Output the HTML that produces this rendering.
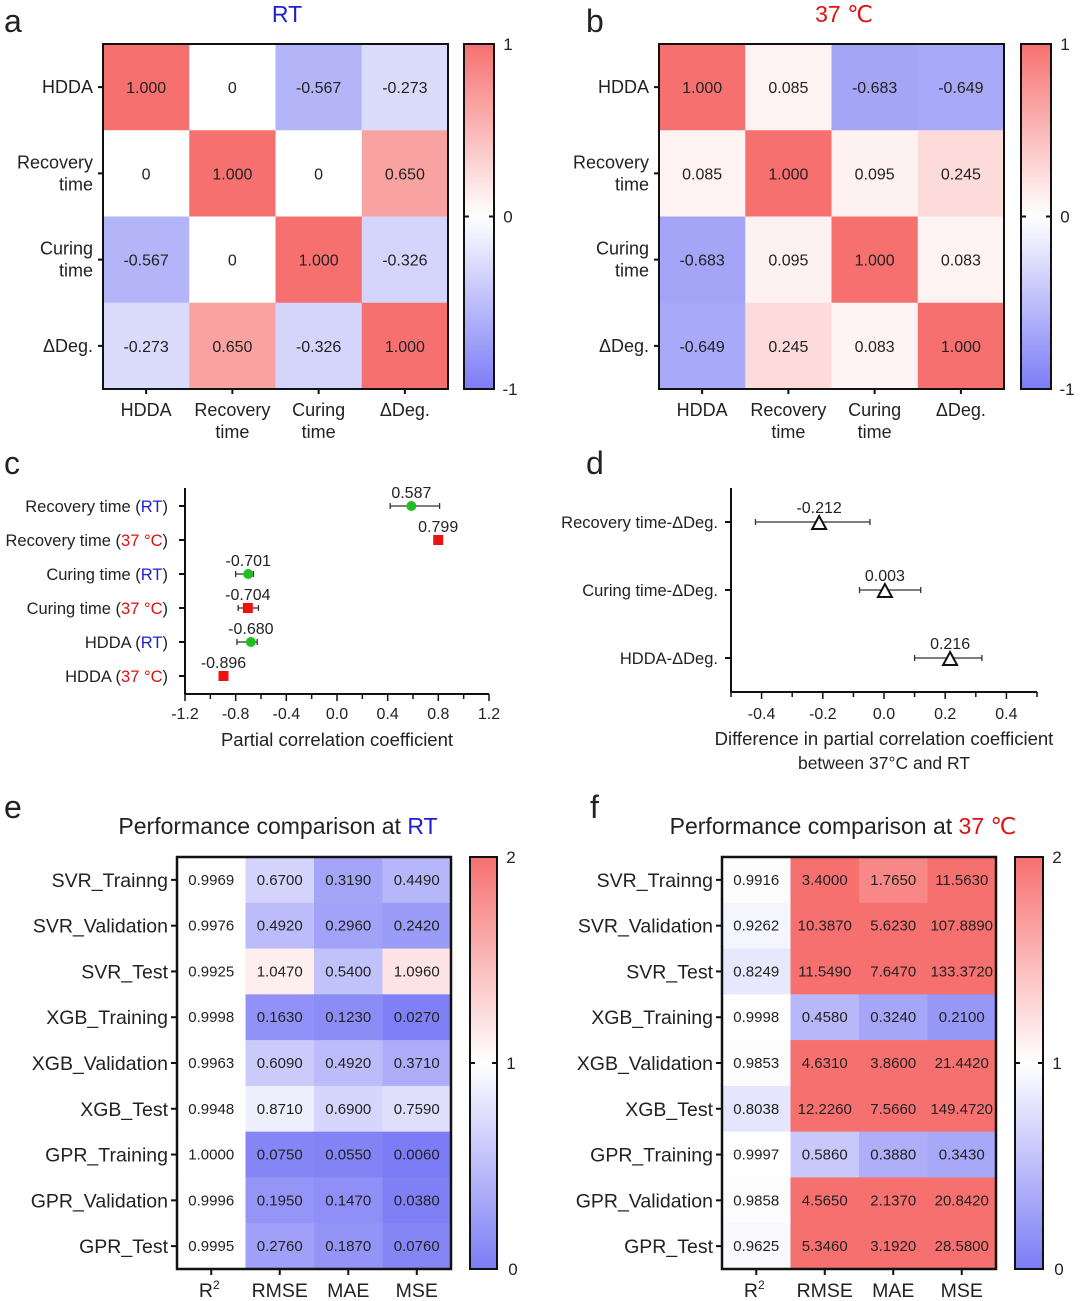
<!DOCTYPE html>
<html><head><meta charset="utf-8"><style>
body{margin:0;background:#fff}
svg{display:block;font-family:"Liberation Sans","DejaVu Sans",sans-serif}
</style></head><body>
<svg id="fig" width="1080" height="1301" viewBox="0 0 1080 1301" xmlns="http://www.w3.org/2000/svg"></svg>
<script>
// ---------- data ----------
const corrLabels = ["HDDA","Recovery time","Curing time","\u0394Deg."];
const corrRT = [[1,0,-0.567,-0.273],[0,1,0,0.650],[-0.567,0,1,-0.326],[-0.273,0.650,-0.326,1]];
const corrRTText = [["1.000","0","-0.567","-0.273"],["0","1.000","0","0.650"],["-0.567","0","1.000","-0.326"],["-0.273","0.650","-0.326","1.000"]];
const corr37 = [[1,0.085,-0.683,-0.649],[0.085,1,0.095,0.245],[-0.683,0.095,1,0.083],[-0.649,0.245,0.083,1]];
const corr37Text = [["1.000","0.085","-0.683","-0.649"],["0.085","1.000","0.095","0.245"],["-0.683","0.095","1.000","0.083"],["-0.649","0.245","0.083","1.000"]];

const pcLabels = ["Recovery time","Recovery time","Curing time","Curing time","HDDA","HDDA"];
const pcCond = ["RT","37 \u00b0C","RT","37 \u00b0C","RT","37 \u00b0C"];
const pcValues = [0.587,0.799,-0.701,-0.704,-0.680,-0.896];
const pcLow = [0.42,0.77,-0.80,-0.78,-0.79,-0.92];
const pcHigh = [0.81,0.83,-0.66,-0.62,-0.63,-0.87];
const pcTicks = [-1.2,-0.8,-0.4,0.0,0.4,0.8,1.2];

const dLabels = ["Recovery time-\u0394Deg.","Curing time-\u0394Deg.","HDDA-\u0394Deg."];
const dValues = [-0.212,0.003,0.216];
const dLow = [-0.42,-0.08,0.10];
const dHigh = [-0.046,0.12,0.32];
const dTicks = [-0.4,-0.2,0.0,0.2,0.4];

const perfRows = ["SVR_Trainng","SVR_Validation","SVR_Test","XGB_Training","XGB_Validation","XGB_Test","GPR_Training","GPR_Validation","GPR_Test"];
const perfCols = ["R2","RMSE","MAE","MSE"];
const perfRT = [["0.9969","0.6700","0.3190","0.4490"],["0.9976","0.4920","0.2960","0.2420"],["0.9925","1.0470","0.5400","1.0960"],["0.9998","0.1630","0.1230","0.0270"],["0.9963","0.6090","0.4920","0.3710"],["0.9948","0.8710","0.6900","0.7590"],["1.0000","0.0750","0.0550","0.0060"],["0.9996","0.1950","0.1470","0.0380"],["0.9995","0.2760","0.1870","0.0760"]];
const perf37 = [["0.9916","3.4000","1.7650","11.5630"],["0.9262","10.3870","5.6230","107.8890"],["0.8249","11.5490","7.6470","133.3720"],["0.9998","0.4580","0.3240","0.2100"],["0.9853","4.6310","3.8600","21.4420"],["0.8038","12.2260","7.5660","149.4720"],["0.9997","0.5860","0.3880","0.3430"],["0.9858","4.5650","2.1370","20.8420"],["0.9625","5.3460","3.1920","28.5800"]];

// ---------- helpers ----------
const svg = document.getElementById('fig');
const NS = "http://www.w3.org/2000/svg";
function mk(tag, attrs, parent){const e=document.createElementNS(NS,tag);for(const k in attrs)e.setAttribute(k,attrs[k]);(parent||svg).appendChild(e);return e;}
function txt(x,y,s,size,anchor,parent,fill){const t=mk('text',{x:x,y:y,'font-size':size,'text-anchor':anchor||'middle',fill:fill||'#222'},parent);t.textContent=s;return t;}
function col(t){ // t in [-1,1]
  t=Math.max(-1,Math.min(1,t));
  let r,g,b;
  if(t>=0){r=255-t*(255-247);g=255-t*(255-112);b=255-t*(255-112);}
  else{const u=-t;r=255-u*(255-124);g=255-u*(255-124);b=255-u*(255-246);}
  return `rgb(${r|0},${g|0},${b|0})`;
}
function colorbar(x,y,w,h,labels){
  const id='cb'+x;
  const d=mk('defs',{});const lg=mk('linearGradient',{id:id,x1:0,y1:0,x2:0,y2:1},d);
  mk('stop',{offset:'0',  'stop-color':col(1)},lg);mk('stop',{offset:'0.5','stop-color':'#fff'},lg);mk('stop',{offset:'1','stop-color':col(-1)},lg);
  const r=mk('rect',{x:x,y:y,width:w,height:h,fill:`url(#${id})`,stroke:'#111','stroke-width':2});
  
  mk('line',{x1:x,y1:y+h/2,x2:x+5,y2:y+h/2,stroke:'#111','stroke-width':2});
  mk('line',{x1:x+w-5,y1:y+h/2,x2:x+w,y2:y+h/2,stroke:'#111','stroke-width':2});
  txt(x+w+14,y+6,labels[0],17,'middle');txt(x+w+14,y+h/2+6,labels[1],17,'middle');txt(x+w+16,y+h+6,labels[2],17,'middle');
}
function corrHeat(x0,y0,size,data,texts,name){
  const g=mk('g',{});
  const n=data.length, c=size/n;
  data.forEach((row,i)=>row.forEach((v,j)=>{
    const r=mk('rect',{x:x0+j*c,y:y0+i*c,width:c+0.5,height:c+0.5,fill:col(v)},g);
    
    txt(x0+j*c+c/2,y0+i*c+c/2+6,texts[i][j],16,'middle',g);
  }));
  mk('rect',{x:x0,y:y0,width:size,height:size,fill:'none',stroke:'#111','stroke-width':2},g);
  corrLabels.forEach((l,i)=>{
    const yy=y0+i*c+c/2, xx=x0+i*c+c/2;
    mk('line',{x1:x0-5,y1:yy,x2:x0,y2:yy,stroke:'#111','stroke-width':2},g);
    mk('line',{x1:xx,y1:y0+size,x2:xx,y2:y0+size+5,stroke:'#111','stroke-width':2},g);
    const parts=l.split(' ');
    if(parts.length>1){
      txt(x0-10,yy-5,parts[0],18,'end',g);txt(x0-10,yy+17,parts[1],18,'end',g);
      txt(xx,y0+size+27,parts[0],18,'middle',g);txt(xx,y0+size+49,parts[1],18,'middle',g);
    }else{
      txt(x0-10,yy+6,l,18,'end',g);txt(xx,y0+size+27,l,18,'middle',g);
    }
  });
}
function perfHeat(x0,y0,w,h,data,name){
  const g=mk('g',{});
  const cw=w/4, rh=h/data.length;
  data.forEach((row,i)=>row.forEach((s,j)=>{
    let t=parseFloat(s)-1;
    if(t>0) t=Math.pow(Math.min(t,1),0.7);
    const r=mk('rect',{x:x0+j*cw,y:y0+i*rh,width:cw+0.5,height:rh+0.5,fill:col(t)},g);
    
    txt(x0+j*cw+cw/2,y0+i*rh+rh/2+5,s,15,'middle',g);
  }));
  mk('rect',{x:x0,y:y0,width:w,height:h,fill:'none',stroke:'#111','stroke-width':2.5},g);
  perfRows.forEach((l,i)=>{const yy=y0+i*rh+rh/2;
    mk('line',{x1:x0-6,y1:yy,x2:x0,y2:yy,stroke:'#111','stroke-width':2},g);
    txt(x0-9,yy+7,l,19.5,'end',g);});
  perfCols.forEach((l,j)=>{const xx=x0+j*cw+cw/2;
    mk('line',{x1:xx,y1:y0+h,x2:xx,y2:y0+h+6,stroke:'#111','stroke-width':2},g);
    if(l==="R2"){const t=txt(xx-2,y0+h+28,'R',19.5,'middle',g);const s=mk('tspan',{dy:-8,'font-size':12},t);s.textContent='2';}
    else txt(xx,y0+h+28,l,19.5,'middle',g);});
}

// ---------- panel letters & titles ----------
[["a",4,32],["b",586,32],["c",4,474],["d",586,474],["e",4,818],["f",590,818]].forEach(p=>{const t=txt(p[1],p[2],p[0],32,'start');});
txt(287,22,'RT',23,'middle',svg,'#1f1fd0');
txt(844,22,'37 \u2103',23,'middle',svg,'#e01010');

// ---------- a, b ----------
corrHeat(103,44,345,corrRT,corrRTText,'heatmap-rt');
colorbar(464,44,30,345,['1','0','-1']);
corrHeat(659,44,345,corr37,corr37Text,'heatmap-37c');
colorbar(1021,44,30,345,['1','0','-1']);

// ---------- c ----------
(function(){
  const g=mk('g',{});
  const xL=185,xR=489,vmin=-1.2,vmax=1.2, yTop=488, yAx=694;
  const X=v=>xL+(v-vmin)/(vmax-vmin)*(xR-xL);
  const rowY=i=>506+i*34;
  mk('line',{x1:xL,y1:yTop,x2:xL,y2:yAx,stroke:'#111','stroke-width':2},g);
  mk('line',{x1:xL,y1:yAx,x2:xR,y2:yAx,stroke:'#111','stroke-width':2},g);
  for(let k=0;k<=12;k++){const v=vmin+k*0.2;mk('line',{x1:X(v),y1:yAx,x2:X(v),y2:yAx+(k%2==0?7:5),stroke:'#111','stroke-width':1.5},g);}
  pcTicks.forEach(v=>txt(X(v),yAx+25,v.toFixed(1),16,'middle',g));
  txt(337,746,'Partial correlation coefficient',18.5,'middle',g);
  pcValues.forEach((v,i)=>{
    const y=rowY(i);
    mk('line',{x1:xL-6,y1:y,x2:xL,y2:y,stroke:'#111','stroke-width':2},g);
    const t=txt(xL-17,y+6,pcLabels[i]+' (',16.5,'end',g);
    const s=mk('tspan',{fill:pcCond[i]==="RT"?'#1f1fd0':'#e01010'},t);s.textContent=pcCond[i];
    const s2=mk('tspan',{fill:'#222'},t);s2.textContent=')';
    mk('line',{x1:X(pcLow[i]),y1:y,x2:X(pcHigh[i]),y2:y,stroke:'#333','stroke-width':1.3},g);
    mk('line',{x1:X(pcLow[i]),y1:y-3,x2:X(pcLow[i]),y2:y+3,stroke:'#333','stroke-width':1.3},g);
    mk('line',{x1:X(pcHigh[i]),y1:y-3,x2:X(pcHigh[i]),y2:y+3,stroke:'#333','stroke-width':1.3},g);
    let m;
    if(pcCond[i]==="RT") m=mk('circle',{cx:X(v),cy:y,r:5,fill:'#1fbf1f'},g);
    else m=mk('rect',{x:X(v)-5,y:y-5,width:10,height:10,fill:'#ee1111'},g);
    
    txt(X(v),y-8,v.toFixed(3),16,'middle',g);
  });
})();

// ---------- d ----------
(function(){
  const g=mk('g',{});
  const vmin=-0.5,vmax=0.5,xL=731,xR=1037,yTop=488,yAx=692;
  const X=v=>xL+(v-vmin)/(vmax-vmin)*(xR-xL);
  const rowY=i=>522+i*68;
  mk('line',{x1:xL,y1:yTop,x2:xL,y2:yAx,stroke:'#111','stroke-width':2},g);
  mk('line',{x1:xL,y1:yAx,x2:xR,y2:yAx,stroke:'#111','stroke-width':2},g);
  for(let k=0;k<=10;k++){const v=vmin+k*0.1;mk('line',{x1:X(v),y1:yAx,x2:X(v),y2:yAx+(k%2==1?7:5),stroke:'#111','stroke-width':1.5},g);}
  dTicks.forEach(v=>txt(X(v),yAx+27,v.toFixed(1),16,'middle',g));
  txt(884,745,'Difference in partial correlation coefficient',18.5,'middle',g);
  txt(884,769,'between 37\u00b0C and RT',17.5,'middle',g);
  dValues.forEach((v,i)=>{
    const y=rowY(i);
    mk('line',{x1:xL-6,y1:y,x2:xL,y2:y,stroke:'#111','stroke-width':2},g);
    txt(xL-13,y+6,dLabels[i],16.5,'end',g);
    mk('line',{x1:X(dLow[i]),y1:y,x2:X(dHigh[i]),y2:y,stroke:'#333','stroke-width':1.3},g);
    mk('line',{x1:X(dLow[i]),y1:y-3,x2:X(dLow[i]),y2:y+3,stroke:'#333','stroke-width':1.3},g);
    mk('line',{x1:X(dHigh[i]),y1:y-3,x2:X(dHigh[i]),y2:y+3,stroke:'#333','stroke-width':1.3},g);
    const cx=X(v);
    const m=mk('polygon',{points:`${cx},${y-6} ${cx-7},${y+7} ${cx+7},${y+7}`,fill:'#fff',stroke:'#111','stroke-width':2},g);
    
    txt(cx,y-9,v.toFixed(3),16,'middle',g);
  });
})();

// ---------- e, f ----------
(function(){const t=txt(278,834,'Performance comparison at ',23,'middle');const s=mk('tspan',{fill:'#1f1fd0'},t);s.textContent='RT';})();
(function(){const t=txt(843,834,'Performance comparison at ',23,'middle');const s=mk('tspan',{fill:'#e01010'},t);s.textContent='37 \u2103';})();
perfHeat(177,857,274,412,perfRT,'performance-heatmap-rt');
colorbar(470,857,27,412,['2','1','0']);
perfHeat(722,857,274,412,perf37,'performance-heatmap-37c');
colorbar(1015,857,28,412,['2','1','0']);
</script>
</body></html>
